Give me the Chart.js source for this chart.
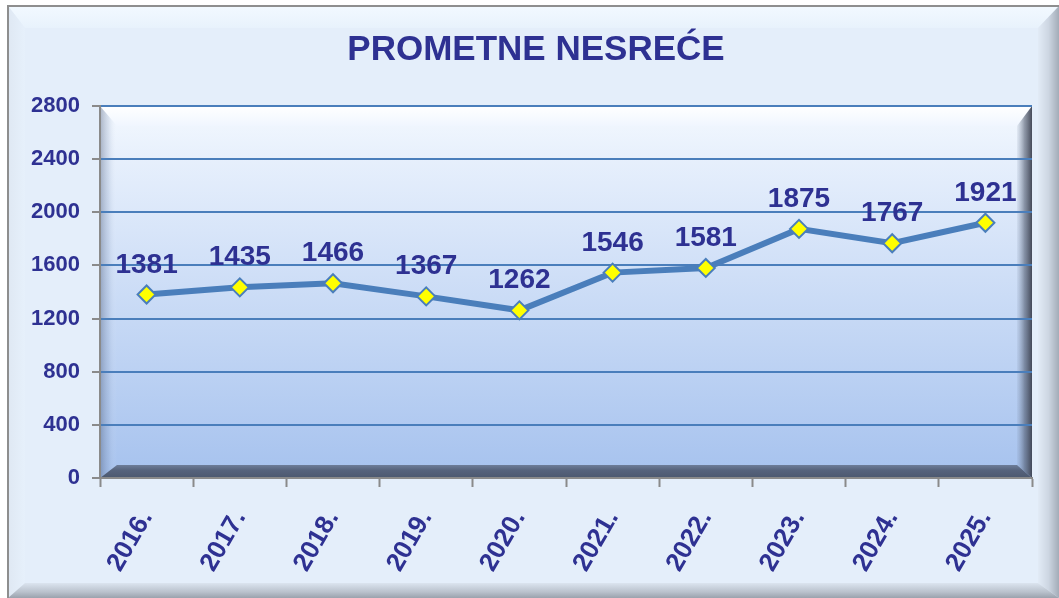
<!DOCTYPE html>
<html>
<head>
<meta charset="utf-8">
<script src="https://cdn.jsdelivr.net/npm/chart.js@4/dist/chart.umd.min.js"></script>
<style>
html,body{margin:0;padding:0;background:#fff;}
canvas{display:block;}
</style>
</head>
<body>
<canvas id="c" width="1059" height="598"></canvas>
<script>
const categories = ['2016.', '2017.', '2018.', '2019.', '2020.', '2021.', '2022.', '2023.', '2024.', '2025.'];
const accidents = [1381, 1435, 1466, 1367, 1262, 1546, 1581, 1875, 1767, 1921];
const yTicks = [0, 400, 800, 1200, 1600, 2000, 2400, 2800];
const titleText = 'PROMETNE NESREĆE';

const TEXT = '#2e3192';
const LINE = '#4a7ebb';
const FONT = '"Liberation Sans", Arial, sans-serif';

function lin(ctx, x0, y0, x1, y1, stops) {
  const g = ctx.createLinearGradient(x0, y0, x1, y1);
  stops.forEach(s => g.addColorStop(s[0], s[1]));
  return g;
}
function poly(ctx, pts, fill) {
  ctx.beginPath();
  ctx.moveTo(pts[0][0], pts[0][1]);
  for (let i = 1; i < pts.length; i++) ctx.lineTo(pts[i][0], pts[i][1]);
  ctx.closePath();
  ctx.fillStyle = fill;
  ctx.fill();
}

const backgroundPlugin = {
  id: 'bg',
  beforeDraw(chart) {
    const ctx = chart.ctx;
    const W = chart.width, H = chart.height;
    ctx.save();
    ctx.fillStyle = '#ffffff';
    ctx.fillRect(0, 0, W, H);
    // outer frame
    const x0 = 8, y0 = 6, x1 = W, y1 = H;
    ctx.fillStyle = '#e4eefa';
    ctx.fillRect(x0, y0, x1 - x0, y1 - y0);
    const bt = 22, bl = 17, br = 21, bb = 15;
    poly(ctx, [[x0, y0], [x1, y0], [x1 - br, y0 + bt], [x0 + bl, y0 + bt]],
      lin(ctx, 0, y0, 0, y0 + bt, [[0, '#f2f9ff'], [1, '#e8f2fc']]));
    poly(ctx, [[x0, y0], [x0 + bl, y0 + bt], [x0 + bl, y1 - bb], [x0, y1]],
      lin(ctx, x0, 0, x0 + bl, 0, [[0, '#dfe8f3'], [1, '#e6f0fb']]));
    poly(ctx, [[x1, y0], [x1, y1], [x1 - br, y1 - bb], [x1 - br, y0 + bt]],
      lin(ctx, x1 - br, 0, x1, 0, [[0, '#e2ebf6'], [0.5, '#cdd6e2'], [1, '#a3acb8']]));
    poly(ctx, [[x0, y1], [x1, y1], [x1 - br, y1 - bb], [x0 + bl, y1 - bb]],
      lin(ctx, 0, y1 - bb, 0, y1, [[0, '#dbe4ef'], [0.6, '#b9c1cc'], [1, '#9aa2ad']]));
    ctx.strokeStyle = '#8e8e8e';
    ctx.lineWidth = 2;
    ctx.beginPath();
    ctx.moveTo(x0, y1); ctx.lineTo(x0, y0); ctx.lineTo(x1, y0);
    ctx.stroke();

    // plot area walls
    const a = chart.chartArea;
    const L = a.left, R = a.right, T = a.top, B = a.bottom;
    ctx.fillStyle = lin(ctx, 0, T, 0, B, [[0, '#f4f9ff'], [0.15, '#e6effc'], [1, '#a6c2ee']]);
    ctx.fillRect(L, T, R - L, B - T);
    const wt = 20, wl = 17, wr = 15, wb = 13;
    poly(ctx, [[L, T], [R, T], [R - wr, T + wt], [L + wl, T + wt]],
      lin(ctx, 0, T, 0, T + wt, [[0, '#ffffff'], [1, '#f0f6ff']]));
    poly(ctx, [[L, T], [L + wl, T + wt], [L + wl, B - wb], [L, B]],
      lin(ctx, L, 0, L + wl, 0, [[0, 'rgba(70,85,115,0.42)'], [0.5, 'rgba(120,140,175,0.2)'], [1, 'rgba(255,255,255,0)']]));
    poly(ctx, [[R, T], [R, B], [R - wr, B - wb], [R - wr, T + wt]],
      lin(ctx, R - wr, 0, R, 0, [[0, 'rgba(120,135,160,0.1)'], [0.5, 'rgba(80,90,110,0.6)'], [1, 'rgba(60,65,80,0.95)']]));
    poly(ctx, [[L, B], [R, B], [R - wr, B - wb], [L + wl, B - wb]],
      lin(ctx, 0, B - wb, 0, B, [[0, '#6d7d99'], [0.4, '#56637c'], [1, '#4c586f']]));
    ctx.restore();
  }
};

const titlePlugin = {
  id: 'frameTitle',
  afterDraw(chart) {
    const ctx = chart.ctx;
    ctx.save();
    ctx.font = 'bold 35px ' + FONT;
    ctx.fillStyle = TEXT;
    ctx.textAlign = 'center';
    ctx.textBaseline = 'alphabetic';
    ctx.fillText(titleText, 536, 60);
    ctx.restore();
  }
};

const labelPlugin = {
  id: 'valueLabels',
  afterDatasetsDraw(chart) {
    const ctx = chart.ctx;
    const meta = chart.getDatasetMeta(0);
    ctx.save();
    ctx.font = 'bold 28px ' + FONT;
    ctx.fillStyle = TEXT;
    ctx.textAlign = 'center';
    ctx.textBaseline = 'alphabetic';
    meta.data.forEach((pt, i) => {
      ctx.fillText(String(chart.data.datasets[0].data[i]), pt.x, pt.y - 22);
    });
    ctx.restore();
  }
};

new Chart(document.getElementById('c'), {
  type: 'line',
  data: {
    labels: categories,
    datasets: [{
      label: titleText,
      data: accidents,
      borderColor: LINE,
      borderWidth: 6,
      tension: 0,
      pointStyle: 'rectRot',
      pointRadius: 9,
      pointHoverRadius: 9,
      pointBackgroundColor: '#ffff00',
      pointBorderColor: LINE,
      pointBorderWidth: 2,
      fill: false
    }]
  },
  options: {
    responsive: false,
    animation: false,
    devicePixelRatio: 1,
    events: [],
    layout: { padding: { left: 0, right: 27, top: 106, bottom: 0 } },
    plugins: {
      legend: { display: false },
      tooltip: { enabled: false },
      title: { display: false }
    },
    scales: {
      x: {
        type: 'category',
        offset: true,
        afterFit(scale) { scale.height = 120; },
        grid: {
          offset: true,
          drawOnChartArea: false,
          drawTicks: true,
          tickLength: 9,
          tickColor: '#8a8a8a',
          tickWidth: 2
        },
        border: { display: true, color: '#8a8a8a', width: 2 },
        ticks: {
          color: TEXT,
          font: { family: FONT, size: 26, weight: 'bold' },
          maxRotation: 60,
          minRotation: 60,
          padding: 18,
          autoSkip: false
        }
      },
      y: {
        min: yTicks[0],
        max: yTicks[yTicks.length - 1],
        afterFit(scale) { scale.width = 100; },
        afterBuildTicks(scale) { scale.ticks = yTicks.map(v => ({ value: v })); },
        grid: {
          color: LINE,
          lineWidth: 2,
          tickColor: '#8a8a8a',
          tickLength: 8,
          tickWidth: 2
        },
        border: { display: true, color: '#8a8a8a', width: 2 },
        ticks: {
          color: TEXT,
          font: { family: FONT, size: 22, weight: 'bold' },
          padding: 12,
          callback: v => String(v)
        }
      }
    }
  },
  plugins: [backgroundPlugin, labelPlugin, titlePlugin]
});
</script>
</body>
</html>
